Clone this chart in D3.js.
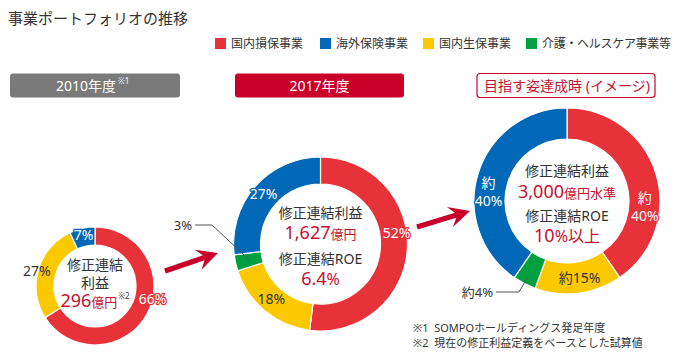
<!DOCTYPE html>
<html>
<head>
<meta charset="utf-8">
<script src="https://cdn.jsdelivr.net/npm/d3@7"></script>
<style>
  body { margin: 0; background: #fff; }
  svg text { font-family: "Noto Sans", "Noto Sans CJK JP", sans-serif; white-space: pre; }
</style>
</head>
<body>
<div id="canvas-wrapper"></div>
<script>
// data
var categories = ["国内損保事業", "海外保険事業", "国内生保事業", "介護・ヘルスケア事業等"];
var colors = ["#e8323a", "#0068b6", "#fcc800", "#00a040"];
// clockwise order on the ring: 国内損保, 国内生保, 介護, 海外
var ringOrder = [0, 2, 3, 1];
var share2010 = [66, 7, 27, 0];
var share2017 = [52, 27, 18, 3];
var shareGoal = [40, 40, 15, 4];
var labels2010 = ["66%", "7%", "27%", ""];
var labels2017 = ["52%", "27%", "18%", "3%"];
var labelsGoal = ["約\n40%", "約\n40%", "約15%", "約4%"];
var headers = ["2010年度", "2017年度", "目指す姿達成時 (イメージ)"];
var center2010 = [["修正連結"], ["利益"], ["296", "億円", "※2"]];
var center2017 = [["修正連結利益"], ["1,627", "億円"], ["修正連結ROE"], ["6.4", "%"]];
var centerGoal = [["修正連結利益"], ["3,000", "億円水準"], ["修正連結ROE"], ["10", "%以上"]];
var notes = ["※1  SOMPOホールディングス発足年度", "※2  現在の修正利益定義をベースとした試算値"];

var RED_TXT = "#c8102e", DARK = "#333";

var svg = d3.select("#canvas-wrapper").append("svg")
    .attr("width", 676).attr("height", 360);

svg.append("text").attr("x", 8).attr("y", 24)
    .attr("font-size", 15).attr("fill", DARK)
    .text("事業ポートフォリオの推移");

// legend
var legendX = [215, 320, 423, 526];
var legend = svg.selectAll("g.legend").data(categories).enter().append("g")
    .attr("transform", function(d, i) { return "translate(" + legendX[i] + ",38)"; });
legend.append("rect").attr("width", 11).attr("height", 11)
    .attr("fill", function(d, i) { return colors[i]; });
legend.append("text").attr("x", 16).attr("y", 10)
    .attr("font-size", 12).attr("fill", DARK)
    .attr("letter-spacing", function(d, i) { return i === 3 ? -0.3 : 0; })
    .text(function(d) { return d; });

// header boxes
var hdr = [
  {x: 10, w: 170, fill: "#7a7a7a", stroke: "none", color: "#fff", cx: 86, sup: "※1"},
  {x: 235, w: 169, fill: "#c8002a", stroke: "none", color: "#fff", cx: 319.5},
  {x: 477, w: 178, fill: "#fff", stroke: "#c8002a", color: RED_TXT, cx: 567}
];
hdr.forEach(function(h, i) {
  svg.append("rect").attr("x", h.x).attr("y", 73.5).attr("width", h.w).attr("height", 24)
      .attr("rx", 3).attr("fill", h.fill).attr("stroke", h.stroke).attr("stroke-width", 1.2);
  var t = svg.append("text").attr("x", h.cx).attr("y", 90.5)
      .attr("text-anchor", "middle").attr("font-size", 14).attr("fill", h.color)
      .text(headers[i]);
  if (h.sup) {
    var w = t.node().getComputedTextLength();
    svg.append("text").attr("x", h.cx + w / 2 + 2).attr("y", 84)
        .attr("font-size", 8).attr("fill", h.color).text(h.sup);
  }
});

// donuts
var donuts = [
  {cx: 95, cy: 286, r0: 41, r1: 59, values: share2010, labels: labels2010,
   labelR: [59, 52, 60, 0], nudge: [-16, 0, -2, 0], labelColor: ["#fff", "#fff", DARK, DARK],
   center: center2010, lineY: [270, 288, 307], lineSize: [14, 14, 18]},
  {cx: 320.5, cy: 244, r0: 60, r1: 87, values: share2017, labels: labels2017,
   labelR: [77, 76, 74, 0], nudge: [-12, 0, 2, 0], labelColor: ["#fff", "#fff", DARK, DARK],
   center: center2017, lineY: [218, 239, 264, 285], lineSize: [14, 18, 14, 18],
   leader: {lx: 192, ly: 225, ex: 212, r: 73}},
  {cx: 567, cy: 201, r0: 62, r1: 93, values: shareGoal, labels: labelsGoal,
   labelR: [78, 79, 78, 0], nudge: [22, -11, -2, 0], labelColor: ["#fff", "#fff", DARK, DARK],
   center: centerGoal, lineY: [176, 198, 221, 242], lineSize: [14, 18, 14, 18],
   leader: {lx: 493, ly: 292, ex: 519, r: 86}}
];

var pie = d3.pie().sort(null).value(function(d) { return d.v; });

donuts.forEach(function(D) {
  var items = ringOrder.map(function(k) { return {k: k, v: D.values[k]}; });
  var arcs = pie(items);
  var arc = d3.arc().innerRadius(D.r0).outerRadius(D.r1);
  var g = svg.append("g").attr("transform", "translate(" + D.cx + "," + D.cy + ")");

  g.selectAll("path").data(arcs.filter(function(a) { return a.data.v > 0; }))
    .enter().append("path")
      .attr("d", arc)
      .attr("fill", function(a) { return colors[a.data.k]; })
      .attr("stroke", "#fff").attr("stroke-width", 1.2);

  arcs.forEach(function(a) {
    var k = a.data.k;
    if (!a.data.v || !D.labels[k]) return;
    var mid = (a.startAngle + a.endAngle) / 2;
    if (D.leader && k === 3) {
      var lr = D.leader.r;
      var px = Math.sin(mid) * lr, py = -Math.cos(mid) * lr;
      var L = D.leader;
      svg.append("path")
        .attr("d", "M" + (L.lx + 3) + "," + L.ly + "H" + L.ex + "L" + (D.cx + px) + "," + (D.cy + py))
        .attr("fill", "none").attr("stroke", "#555").attr("stroke-width", 1);
      svg.append("text").attr("x", L.lx).attr("y", L.ly + 5)
        .attr("text-anchor", "end").attr("font-size", 13).attr("fill", DARK)
        .text(D.labels[k]);
      return;
    }
    var ang = mid + D.nudge[k] * Math.PI / 180;
    var r = D.labelR[k];
    var x = Math.sin(ang) * r, y = -Math.cos(ang) * r;
    var lines = D.labels[k].split("\n");
    var t = g.append("text").attr("text-anchor", "middle")
        .attr("font-size", 14).attr("fill", D.labelColor[k]);
    if (D.labelColor[k] === "#fff") {
      t.attr("stroke", colors[k]).attr("stroke-width", 2.5)
       .attr("paint-order", "stroke").attr("stroke-linejoin", "round");
    }
    lines.forEach(function(s, j) {
      t.append("tspan").attr("x", x)
        .attr("y", y + 5 + (j - (lines.length - 1) / 2) * 18)
        .text(s);
    });
  });

  // center text
  D.center.forEach(function(line, i) {
    var t = g.append("text").attr("text-anchor", "middle")
        .attr("x", 0).attr("y", D.lineY[i] - D.cy);
    var isRed = line.length > 1;
    line.forEach(function(s, j) {
      var ts = t.append("tspan").text(s);
      if (!isRed) {
        ts.attr("font-size", 14).attr("fill", DARK);
      } else if (j === 0) {
        ts.attr("font-size", D.lineSize[i]).attr("fill", RED_TXT);
      } else if (s.charAt(0) === "※") {
        ts.attr("font-size", 8).attr("fill", DARK).attr("dy", -8).attr("dx", 1);
      } else {
        ts.attr("font-size", s.charAt(0) === "%" ? 16 : 13).attr("fill", RED_TXT);
      }
    });
  });
});

// arrows
var arrows = [[165, 271, 218, 253], [417, 227, 470, 211]];
arrows.forEach(function(a) {
  var dx = a[2] - a[0], dy = a[3] - a[1];
  var L = Math.sqrt(dx * dx + dy * dy), rot = Math.atan2(dy, dx) * 180 / Math.PI;
  svg.append("path")
    .attr("transform", "translate(" + a[0] + "," + a[1] + ") rotate(" + rot + ")")
    .attr("d", "M0,-2.6H" + (L - 15) + "L" + (L - 21) + ",-10.5L" + L + ",0L" + (L - 21) +
      ",10.5L" + (L - 15) + ",2.6H0Z")
    .attr("fill", "#c8002a");
});

// footnotes
notes.forEach(function(n, i) {
  svg.append("text").attr("x", 413).attr("y", 332 + i * 15)
    .attr("font-size", 11).attr("fill", DARK).text(n);
});
</script>
</body>
</html>
